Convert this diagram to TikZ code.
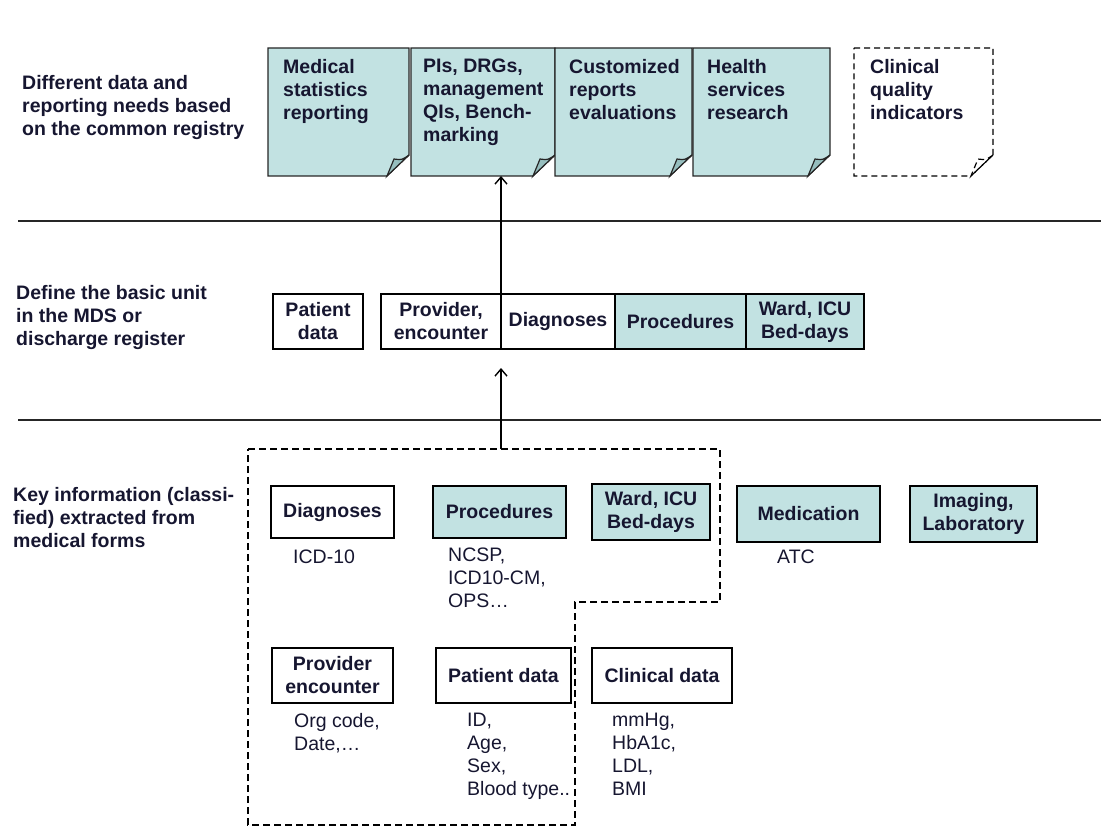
\documentclass[tikz,border=0pt]{standalone}
\usepackage{fontspec}
\setmainfont{Liberation Sans}
\usetikzlibrary{positioning,calc,arrows.meta}

\definecolor{cardfill}{RGB}{194,226,226}
\definecolor{foldfill}{RGB}{150,190,190}
\definecolor{ink}{RGB}{22,22,48}

% note with a folded corner, drawn round an empty node
\newcommand\dogear[3]{%
  \draw[#2] (#1.north west) -- (#1.north east) -- ($(#1.south east)+(0,-21)$)
    -- ($(#1.south east)+(-22,0)$) -- (#1.south west) -- cycle;
  \draw[#2, #3] ($(#1.south east)+(0,-21)$) .. controls ($(#1.south east)+(-7,-16)$) .. ($(#1.south east)+(-15,-17)$)
    -- ($(#1.south east)+(-22,0)$) -- cycle;
}

\begin{document}
\begin{tikzpicture}[x=1pt,y=-1pt,
  bigfont/.style={font=\bfseries\fontsize{19.5}{23}\selectfont, text=ink},
  smallfont/.style={font=\fontsize{19.5}{23}\selectfont, text=ink},
  cardbox/.style={minimum height=128pt, inner sep=0pt, outer sep=0pt, anchor=north west},
  cardtext/.style={bigfont, align=left, inner sep=0pt},
  header/.style={bigfont, align=left, inner sep=0pt, anchor=north west},
  unit/.style={draw, line width=1.2pt, bigfont, align=center, inner sep=1pt, outer sep=0pt,
    minimum height=55pt, anchor=north west},
  field/.style={draw, line width=1.2pt, bigfont, align=center, inner sep=1pt, outer sep=0pt,
    anchor=north west},
  coded/.style={fill=cardfill},
  codes/.style={smallfont, align=left, inner sep=0pt},
  rule/.style={line width=1.4pt, black!85},
  flow/.style={line width=1.4pt, -{Straight Barb[length=7pt,width=12pt]}},
]
\useasboundingbox (0,0) rectangle (1101,829);

% row headers
\node[header] (hdrTop) at (22,75) {Different data and\\reporting needs based\\on the common registry};
\node[header] (hdrMid) at (16,285) {Define the basic unit\\in the MDS or\\discharge register};
\node[header] (hdrLow) at (13,487) {Key information (classi-\\fied) extracted from\\medical forms};

\draw[rule] (18,221) -- (1101,221);
\draw[rule] (18,420) -- (1101,420);

% reporting needs
\node[cardbox, minimum width=141pt] (rep1) at (268,48) {};
\node[cardbox, minimum width=144pt] (rep2) at (411,48) {};
\node[cardbox, minimum width=137pt] (rep3) at (555,48) {};
\node[cardbox, minimum width=137pt] (rep4) at (693,48) {};
\node[cardbox, minimum width=139pt] (rep5) at (854,48) {};
\dogear{rep1}{line width=1.2pt, draw=black!85, fill=cardfill}{fill=foldfill}
\dogear{rep2}{line width=1.2pt, draw=black!85, fill=cardfill}{fill=foldfill}
\dogear{rep3}{line width=1.2pt, draw=black!85, fill=cardfill}{fill=foldfill}
\dogear{rep4}{line width=1.2pt, draw=black!85, fill=cardfill}{fill=foldfill}
\dogear{rep5}{line width=1.2pt, dash pattern=on 6pt off 4pt}{}
\node[cardtext, below right=11pt and 15pt of rep1.north west] (rep1t) {Medical\\statistics\\reporting};
\node[cardtext, below right=11pt and 12pt of rep2.north west] (rep2t) {PIs, DRGs,\\management\\QIs, Bench-\\marking};
\node[cardtext, below right=11pt and 14pt of rep3.north west] (rep3t) {Customized\\reports\\evaluations};
\node[cardtext, below right=11pt and 14pt of rep4.north west] (rep4t) {Health\\services\\research};
\node[cardtext, below right=11pt and 16pt of rep5.north west] (rep5t) {Clinical\\quality\\indicators};

% basic unit
\node[unit, minimum width=90pt] (mPat) at (273,294) {Patient\\data};
\node[unit, minimum width=120pt] (mProv) at (381,294) {Provider,\\encounter};
\node[unit, minimum width=114pt, right=0pt of mProv] (mDiag) {Diagnoses};
\node[unit, coded, minimum width=131pt, right=0pt of mDiag] (mProc) {Procedures};
\node[unit, coded, minimum width=118pt, right=0pt of mProc] (mWard) {Ward, ICU\\Bed-days};

\draw[flow] (mProv.north east) -- (mProv.north east |- rep2.south);

% key information
\draw[line width=1.2pt, dash pattern=on 7pt off 4pt]
  (248,449) -- (720,449) -- (720,602) -- (575,602) -- (575,825) -- (248,825) -- cycle;
\coordinate (formtop) at (mProv.east |- 0,449);
\coordinate (unittip) at ($(mProv.south east)+(0,19)$);
\draw[flow] (formtop) -- (unittip);

\node[field, minimum width=123pt, minimum height=52pt] (fDiag) at (271,486) {Diagnoses};
\node[field, coded, minimum width=133pt, minimum height=52pt] (fProc) at (433,486) {Procedures};
\node[field, coded, minimum width=118pt, minimum height=56pt] (fWard) at (592,484) {Ward, ICU\\Bed-days};
\node[field, coded, minimum width=143pt, minimum height=56pt] (fMed) at (737,486) {Medication};
\node[field, coded, minimum width=127pt, minimum height=56pt] (fImg) at (910,486) {Imaging,\\Laboratory};
\node[field, minimum width=121pt, minimum height=55pt] (fProv) at (272,648) {Provider\\encounter};
\node[field, minimum width=135pt, minimum height=55pt] (fPat) at (436,648) {Patient data};
\node[field, minimum width=140pt, minimum height=55pt] (fClin) at (592,648) {Clinical data};

\node[codes, below right=12pt and 22pt of fDiag.south west] (cDiag) {ICD-10};
\node[codes, below right=10pt and 15pt of fProc.south west] (cProc) {NCSP,\\ICD10-CM,\\OPS\dots};
\node[codes, below right=8pt and 40pt of fMed.south west] (cMed) {ATC};
\node[codes, below right=10pt and 22pt of fProv.south west] (cProv) {Org code,\\Date,\dots};
\node[codes, below right=10pt and 31pt of fPat.south west] (cPat) {ID,\\Age,\\Sex,\\Blood type..};
\node[codes, below right=10pt and 20pt of fClin.south west] (cClin) {mmHg,\\HbA1c,\\LDL,\\BMI};
\end{tikzpicture}
\end{document}
